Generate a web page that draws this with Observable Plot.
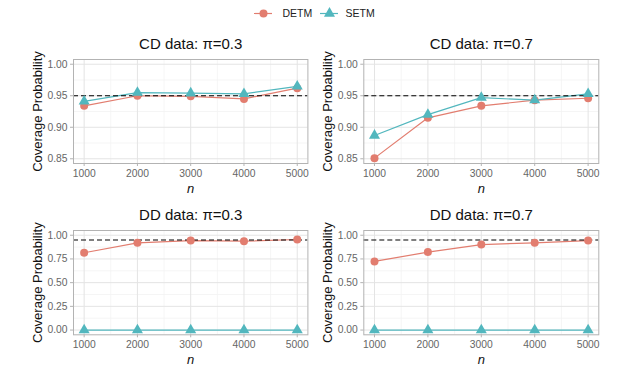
<!DOCTYPE html>
<html>
<head>
<meta charset="utf-8">
<script src="https://cdn.jsdelivr.net/npm/d3@7"></script>
<script src="https://cdn.jsdelivr.net/npm/@observablehq/plot@0.6"></script>
<style>
  html, body { margin: 0; padding: 0; background: white; }
  #root { position: relative; width: 640px; height: 373px; overflow: hidden; font-family: "Liberation Sans", Arial, sans-serif; }
  #root > svg, #root > div { position: absolute; }
</style>
</head>
<body>
<div id="root"></div>
<script>
// ---- data ----
const ns = [1000, 2000, 3000, 4000, 5000];
const methods = ["DETM", "SETM"];
const panelTitles = ["CD data: π=0.3", "CD data: π=0.7", "DD data: π=0.3", "DD data: π=0.7"];
const detmCD03 = [0.934, 0.950, 0.949, 0.945, 0.962];
const setmCD03 = [0.941, 0.955, 0.954, 0.953, 0.965];
const detmCD07 = [0.851, 0.915, 0.934, 0.943, 0.946];
const setmCD07 = [0.887, 0.920, 0.947, 0.943, 0.953];
const detmDD03 = [0.815, 0.920, 0.944, 0.937, 0.955];
const setmDD03 = [0.0, 0.0, 0.0, 0.0, 0.0];
const detmDD07 = [0.724, 0.822, 0.902, 0.920, 0.944];
const setmDD07 = [0.0, 0.0, 0.0, 0.0, 0.0];
const nominal = 0.95;
const xMinor = [1500, 2500, 3500, 4500];
const yTicksCD = [0.85, 0.90, 0.95, 1.00];
const yMinorCD = [0.875, 0.925, 0.975];
const yTicksDD = [0.00, 0.25, 0.50, 0.75, 1.00];
const yMinorDD = [0.125, 0.375, 0.625, 0.875];

const colors = {DETM: "#e27d6f", SETM: "#52b7be"};
const font = "'Liberation Sans', Arial, sans-serif";
const root = document.getElementById("root");

function panel({title, detm, setm, yDomain, yTicks, yMinor, left, top, width, height, mL, mR, mT, mB}) {
  const rows = [];
  ns.forEach((n, i) => rows.push({n, v: detm[i], m: "DETM"}));
  ns.forEach((n, i) => rows.push({n, v: setm[i], m: "SETM"}));
  const d = rows.filter(r => r.m === "DETM");
  const s = rows.filter(r => r.m === "SETM");
  const chart = Plot.plot({
    width, height,
    marginLeft: mL, marginRight: mR, marginTop: mT, marginBottom: mB,
    style: `background:transparent;overflow:visible;font-family:${font};`,
    x: {domain: [800, 5200], axis: null},
    y: {domain: yDomain, axis: null},
    marks: [
      Plot.ruleX(xMinor, {stroke: "#f2f2f2", strokeWidth: 0.8}),
      Plot.ruleY(yMinor, {stroke: "#f2f2f2", strokeWidth: 0.8}),
      Plot.ruleX(ns, {stroke: "#e4e4e4", strokeWidth: 1}),
      Plot.ruleY(yTicks, {stroke: "#e4e4e4", strokeWidth: 1}),
      Plot.line(d, {x: "n", y: "v", stroke: colors.DETM, strokeWidth: 1.2}),
      Plot.line(s, {x: "n", y: "v", stroke: colors.SETM, strokeWidth: 1.2}),
      Plot.ruleY([nominal], {stroke: "black", strokeWidth: 1.2, strokeDasharray: "5,3"}),
      Plot.dot(d, {x: "n", y: "v", fill: colors.DETM, r: 4, symbol: "circle"}),
      Plot.dot(s, {x: "n", y: "v", fill: colors.SETM, r: 4.1, symbol: "triangle"}),
      Plot.frame({stroke: "#b3b3b3", strokeWidth: 1}),
      Plot.axisX({ticks: ns, tickFormat: v => String(v), tickSize: 3, tickPadding: 3,
                  stroke: "#b3b3b3", fill: "#666", fontSize: 10.3, label: null}),
      Plot.axisY({ticks: yTicks, tickFormat: v => v.toFixed(2), tickSize: 3, tickPadding: 3,
                  stroke: "#b3b3b3", fill: "#666", fontSize: 10.3, label: null}),
      Plot.text([title], {frameAnchor: "top", dy: -15, lineAnchor: "middle", fontSize: 15, fill: "#111"}),
      Plot.text(["Coverage Probability"], {frameAnchor: "left", dx: -36, rotate: -90, lineAnchor: "middle", textAnchor: "middle", fontSize: 13, fill: "#111"}),
      Plot.text(["n"], {frameAnchor: "bottom", dy: 25, lineAnchor: "middle", fontSize: 13, fontStyle: "italic", fill: "#111"})
    ]
  });
  chart.style.left = left + "px";
  chart.style.top = top + "px";
  root.appendChild(chart);
}

const cdDomain = [0.8425, 1.0075];
const ddDomain = [-0.05, 1.05];
panel({title: panelTitles[0], detm: detmCD03, setm: setmCD03, yDomain: cdDomain, yTicks: yTicksCD, yMinor: yMinorCD,
       left: 0, top: 0, width: 320, height: 200, mL: 73, mR: 12.6, mT: 59, mB: 37});
panel({title: panelTitles[1], detm: detmCD07, setm: setmCD07, yDomain: cdDomain, yTicks: yTicksCD, yMinor: yMinorCD,
       left: 320, top: 0, width: 320, height: 200, mL: 43.3, mR: 41.7, mT: 59, mB: 37});
panel({title: panelTitles[2], detm: detmDD03, setm: setmDD03, yDomain: ddDomain, yTicks: yTicksDD, yMinor: yMinorDD,
       left: 0, top: 190, width: 320, height: 183, mL: 73, mR: 12.6, mT: 40, mB: 38.7});
panel({title: panelTitles[3], detm: detmDD07, setm: setmDD07, yDomain: ddDomain, yTicks: yTicksDD, yMinor: yMinorDD,
       left: 320, top: 190, width: 320, height: 183, mL: 43.3, mR: 41.7, mT: 40, mB: 38.7});

// ---- legend ----
const legendKeyX = [263, 329];   // key centres (page px)
const legendTextX = [282, 345];  // label starts (page px)
const legend = Plot.plot({
  width: 640, height: 26, margin: 0,
  style: `background:transparent;overflow:visible;font-family:${font};`,
  x: {domain: [0, 640], axis: null},
  y: {domain: [0, 26], axis: null},
  marks: [
    Plot.ruleY([13], {x1: legendKeyX[0] - 9, x2: legendKeyX[0] + 9, stroke: colors.DETM, strokeWidth: 1.2}),
    Plot.ruleY([13], {x1: legendKeyX[1] - 9, x2: legendKeyX[1] + 9, stroke: colors.SETM, strokeWidth: 1.2}),
    Plot.dot([methods[0]], {x: () => legendKeyX[0], y: () => 13, fill: colors.DETM, r: 4, symbol: "circle"}),
    Plot.dot([methods[1]], {x: () => legendKeyX[1], y: () => 13, fill: colors.SETM, r: 4.1, symbol: "triangle"}),
    Plot.text([methods[0]], {x: () => legendTextX[0], y: () => 13, text: d => d, textAnchor: "start", lineAnchor: "middle", fontSize: 10.5, fill: "#222"}),
    Plot.text([methods[1]], {x: () => legendTextX[1], y: () => 13, text: d => d, textAnchor: "start", lineAnchor: "middle", fontSize: 10.5, fill: "#222"})
  ]
});
legend.style.left = "0px";
legend.style.top = "0px";
root.appendChild(legend);
</script>
</body>
</html>
